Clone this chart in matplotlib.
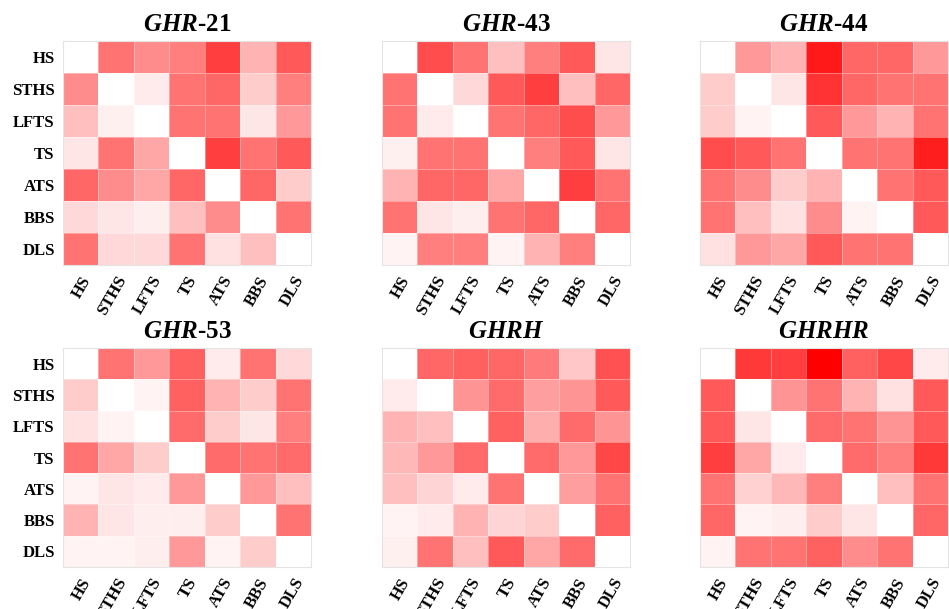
import numpy as np
import matplotlib
matplotlib.use("Agg")
import matplotlib.pyplot as plt
from matplotlib.colors import LinearSegmentedColormap

plt.rcParams['font.family'] = 'Liberation Serif'
plt.rcParams['font.weight'] = 'bold'
plt.rcParams['mathtext.fontset'] = 'custom'
plt.rcParams['mathtext.it'] = 'Liberation Serif:italic:bold'
plt.rcParams['mathtext.rm'] = 'Liberation Serif:bold'

labels = ["HS", "STHS", "LFTS", "TS", "ATS", "BBS", "DLS"]
titles = [r"$GHR$-21", r"$GHR$-43", r"$GHR$-44", r"$GHR$-53", r"$GHRH$", r"$GHRHR$"]

ghr21 = [[0, 0.55, 0.45, 0.5, 0.75, 0.3, 0.65],
         [0.45, 0, 0.08, 0.55, 0.6, 0.2, 0.5],
         [0.25, 0.06, 0, 0.55, 0.55, 0.1, 0.4],
         [0.1, 0.55, 0.35, 0, 0.75, 0.55, 0.65],
         [0.6, 0.45, 0.35, 0.6, 0, 0.6, 0.2],
         [0.15, 0.1, 0.07, 0.25, 0.45, 0, 0.55],
         [0.55, 0.15, 0.15, 0.55, 0.12, 0.25, 0]]

ghr43 = [[0, 0.7, 0.55, 0.25, 0.5, 0.65, 0.1],
         [0.55, 0, 0.15, 0.65, 0.75, 0.25, 0.6],
         [0.55, 0.08, 0, 0.55, 0.6, 0.7, 0.4],
         [0.06, 0.55, 0.55, 0, 0.5, 0.65, 0.1],
         [0.3, 0.6, 0.6, 0.35, 0, 0.75, 0.55],
         [0.55, 0.1, 0.07, 0.55, 0.6, 0, 0.6],
         [0.05, 0.5, 0.5, 0.05, 0.3, 0.5, 0]]

ghr44 = [[0, 0.4, 0.3, 0.9, 0.6, 0.6, 0.4],
         [0.2, 0, 0.1, 0.8, 0.6, 0.55, 0.55],
         [0.2, 0.05, 0, 0.65, 0.4, 0.3, 0.55],
         [0.7, 0.65, 0.55, 0, 0.55, 0.55, 0.88],
         [0.55, 0.45, 0.2, 0.3, 0, 0.55, 0.65],
         [0.55, 0.25, 0.12, 0.45, 0.05, 0, 0.65],
         [0.12, 0.4, 0.35, 0.65, 0.55, 0.55, 0]]

ghr53 = [[0, 0.55, 0.4, 0.62, 0.08, 0.55, 0.15],
         [0.2, 0, 0.05, 0.62, 0.3, 0.2, 0.55],
         [0.12, 0.05, 0, 0.58, 0.2, 0.1, 0.5],
         [0.55, 0.35, 0.2, 0, 0.58, 0.55, 0.58],
         [0.05, 0.1, 0.08, 0.4, 0, 0.4, 0.25],
         [0.3, 0.1, 0.07, 0.07, 0.2, 0, 0.55],
         [0.05, 0.05, 0.07, 0.4, 0.05, 0.2, 0]]

ghrh = [[0, 0.6, 0.62, 0.6, 0.52, 0.22, 0.68],
        [0.08, 0, 0.42, 0.58, 0.38, 0.42, 0.65],
        [0.3, 0.25, 0, 0.62, 0.32, 0.58, 0.42],
        [0.28, 0.4, 0.58, 0, 0.58, 0.4, 0.72],
        [0.25, 0.17, 0.08, 0.55, 0, 0.38, 0.55],
        [0.05, 0.08, 0.3, 0.17, 0.2, 0, 0.62],
        [0.06, 0.55, 0.25, 0.65, 0.35, 0.58, 0]]

ghrhr = [[0, 0.78, 0.75, 1.0, 0.62, 0.72, 0.08],
         [0.65, 0, 0.42, 0.55, 0.3, 0.12, 0.65],
         [0.65, 0.1, 0, 0.58, 0.55, 0.42, 0.65],
         [0.75, 0.35, 0.08, 0, 0.58, 0.5, 0.78],
         [0.55, 0.18, 0.28, 0.5, 0, 0.25, 0.55],
         [0.6, 0.05, 0.07, 0.2, 0.1, 0, 0.6],
         [0.05, 0.55, 0.55, 0.62, 0.45, 0.55, 0]]

mats = [ghr21, ghr43, ghr44, ghr53, ghrh, ghrhr]

cmap = LinearSegmentedColormap.from_list("wr", ["#ffffff", "#ff0000"])

W, H = 949, 609
fig = plt.figure(figsize=(W / 100, H / 100), dpi=100)

lefts = [63, 382, 700]
rows = [(41, 265), (348, 567)]

for i, m in enumerate(mats):
    r, c = divmod(i, 3)
    x0 = lefts[c]
    y0, y1 = rows[r]
    ax = fig.add_axes([x0 / W, 1 - y1 / H, 248 / W, (y1 - y0) / H])
    ax.pcolormesh(np.array(m), cmap=cmap, vmin=0, vmax=1,
                  edgecolors=(1, 1, 1, 0.35), linewidth=0.5)
    ax.set_xlim(0, 7)
    ax.set_ylim(7, 0)
    ax.set_xticks(np.arange(7) + 0.5)
    ax.set_xticklabels(labels, rotation=60, ha="right", rotation_mode="anchor",
                       fontsize=12, fontweight="bold")
    ax.set_yticks(np.arange(7) + 0.5)
    if c == 0:
        ax.set_yticklabels(labels, fontsize=12, fontweight="bold")
    else:
        ax.set_yticklabels([])
    ax.tick_params(length=0, pad=6)
    for s in ax.spines.values():
        s.set_color("#e4e4e4")
        s.set_linewidth(0.8)
    ax.set_title(titles[i], fontsize=18, fontweight="bold", pad=7)

fig.savefig("out.png", dpi=100)
